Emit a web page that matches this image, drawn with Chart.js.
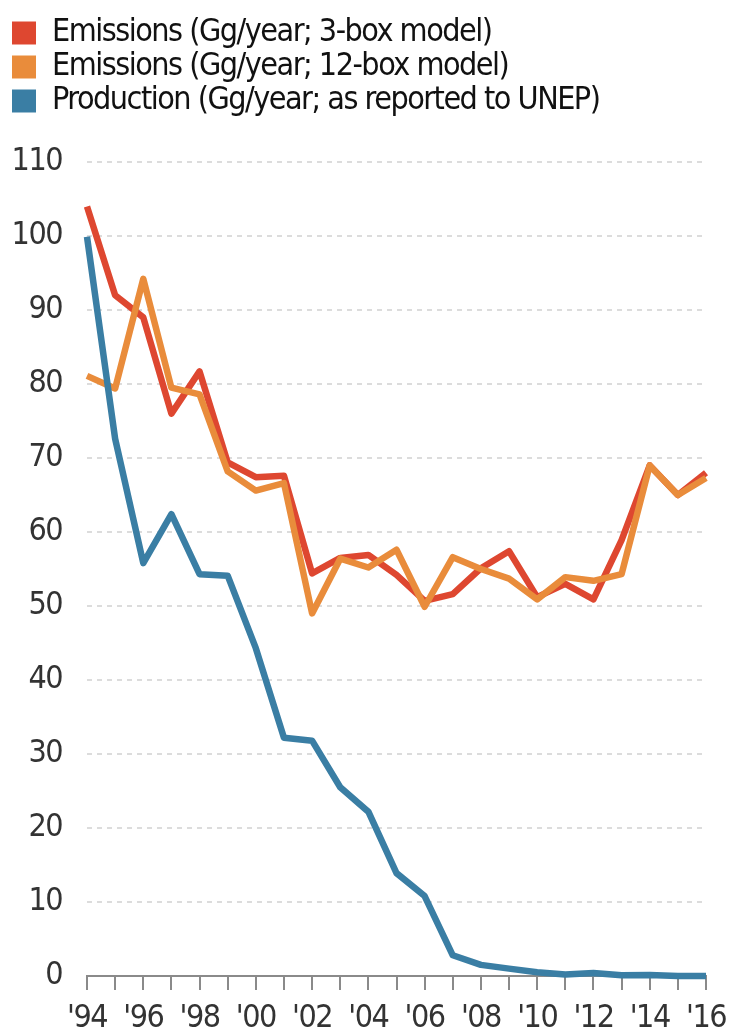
<!DOCTYPE html>
<html>
<head>
<meta charset="UTF-8">
<script src="https://cdn.jsdelivr.net/npm/chart.js@4/dist/chart.umd.min.js"></script>
<style>
  html, body { margin: 0; padding: 0; background: #fff; }
  #wrap { width: 730px; height: 1034px; position: relative; }
</style>
</head>
<body>
<div id="wrap"><canvas id="plot"></canvas></div>
<script>
// years on the x axis
const years = ['1994','1995','1996','1997','1998','1999','2000','2001','2002','2003','2004',
               '2005','2006','2007','2008','2009','2010','2011','2012','2013','2014','2015','2016'];

// Emissions (Gg/year; 3-box model)
const emis3box = [104, 92, 89, 76, 81.7, 69.4, 67.4, 67.6, 54.4, 56.5, 56.9,
                  54.2, 50.7, 51.6, 55.1, 57.4, 51.2, 53, 50.9, 58.9, 69, 65, 68];
// Emissions (Gg/year; 12-box model)
const emis12box = [81.1, 79.4, 94.2, 79.5, 78.6, 68.2, 65.6, 66.6, 49, 56.4, 55.2,
                   57.6, 49.9, 56.6, 55, 53.7, 50.9, 53.9, 53.4, 54.3, 69, 65, 67.3];
// Production (Gg/year; as reported to UNEP)
const production = [99.9, 72.6, 55.8, 62.4, 54.3, 54.1, 44.3, 32.2, 31.8, 25.5, 22.2,
                    13.9, 10.8, 2.8, 1.5, 1.0, 0.5, 0.2, 0.4, 0.1, 0.15, 0, 0];

const seriesLabels = ['Emissions (Gg/year; 3-box model)',
                      'Emissions (Gg/year; 12-box model)',
                      'Production (Gg/year; as reported to UNEP)'];

const RED = '#de4730', ORANGE = '#e98c3b', BLUE = '#3a7ea4';
const FONT = '"DejaVu Sans Condensed", "Liberation Sans Narrow", sans-serif';

function line(label, data, color, order) {
    return {
        label: label, data: data,
        borderColor: color, backgroundColor: color,
        borderWidth: 6.5, pointRadius: 0, pointHoverRadius: 0,
        borderJoinStyle: 'round', borderCapStyle: 'butt',
        tension: 0, clip: false, order: order
    };
}

// squeeze the text a bit, the original uses a condensed face
const narrowText = {
    id: 'narrowText',
    beforeUpdate(chart) { chart.ctx.letterSpacing = '-1.5px'; },
    beforeDraw(chart) { chart.ctx.letterSpacing = '-1.5px'; }
};

// extra room under the legend
const legendGap = {
    id: 'legendGap',
    beforeInit(chart) {
        const fit = chart.legend.fit;
        chart.legend.fit = function() {
            fit.bind(chart.legend)();
            this.height += 35;
        };
    }
};

const ctx = document.getElementById('plot').getContext('2d');
new Chart(ctx, {
    type: 'line',
    data: {
        labels: years,
        datasets: [
            line(seriesLabels[0], emis3box, RED, 3),
            line(seriesLabels[1], emis12box, ORANGE, 2),
            line(seriesLabels[2], production, BLUE, 1)
        ]
    },
    plugins: [narrowText, legendGap],
    options: {
        responsive: true,
        maintainAspectRatio: false,
        animation: false,
        layout: { padding: { left: 10, right: 0, top: 15, bottom: 0 } },
        plugins: {
            tooltip: { enabled: false },
            legend: {
                position: 'top',
                align: 'start',
                labels: {
                    boxWidth: 24,
                    boxHeight: 23,
                    padding: 2,
                    color: '#111',
                    font: { family: FONT, size: 32 },
                    generateLabels: (chart) => {
                        const items = Chart.defaults.plugins.legend.labels.generateLabels(chart);
                        items.forEach(it => { it.lineWidth = 0; it.strokeStyle = 'transparent'; });
                        items.sort((a, b) => a.datasetIndex - b.datasetIndex);
                        return items;
                    }
                }
            }
        },
        scales: {
            x: {
                type: 'category',
                offset: false,
                afterFit: (scale) => { scale.height = 58; scale.paddingRight = 24; },
                border: { display: true, color: '#8a8a8a', width: 2 },
                grid: {
                    drawOnChartArea: false,
                    drawTicks: true,
                    tickLength: 14,
                    color: '#8a8a8a',
                    lineWidth: 2
                },
                ticks: {
                    autoSkip: false,
                    maxRotation: 0,
                    padding: 9,
                    color: '#333',
                    font: { family: FONT, size: 32 },
                    callback: function(value, index) {
                        const y = this.getLabelForValue(value);
                        return (index % 2 === 0) ? "'" + y.slice(2) : '';
                    }
                }
            },
            y: {
                min: 0, max: 110,
                afterFit: (scale) => { scale.width = 77; },
                border: { display: false, dash: [5, 5] },
                grid: {
                    drawTicks: false,
                    lineWidth: 2,
                    color: (c) => c.tick && c.tick.value === 0 ? 'rgba(0,0,0,0)' : '#dcdcdc'
                },
                ticks: {
                    stepSize: 10,
                    padding: 25,
                    color: '#333',
                    font: { family: FONT, size: 32 }
                }
            }
        }
    }
});
</script>
</body>
</html>
